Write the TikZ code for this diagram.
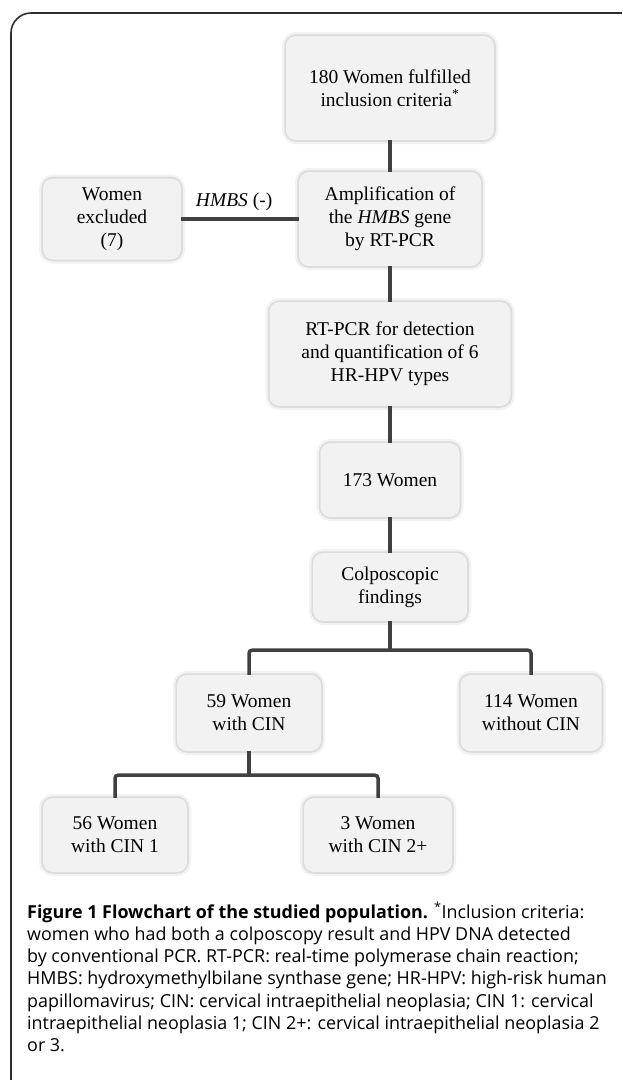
\documentclass[tikz,border=0pt]{standalone}
\usepackage{fontspec}
\setmainfont{Liberation Serif}
\newfontfamily\capfont{Open Sans}
\usepackage{xcolor}
\usetikzlibrary{positioning}

\definecolor{boxgray}{HTML}{F2F2F2}
\definecolor{linegray}{HTML}{404040}
\definecolor{framegray}{HTML}{2E2E2E}

\tikzset{
  box/.style={rectangle, rounded corners=10pt, fill=boxgray, align=center,
    inner sep=2pt, font=\fontsize{19.5}{23}\selectfont,
    preaction={draw=black, draw opacity=0.05, line width=8pt},
    preaction={draw=black, draw opacity=0.09, line width=3.5pt}},
  link/.style={draw=linegray, line width=3.5pt},
}

\begin{document}
\begin{tikzpicture}[x=1pt, y=1pt, on grid, node distance=130pt]
      \clip (0,0) rectangle (622,-1080);
      \draw[framegray, line width=1.6pt, rounded corners=20pt] (11,-13) rectangle (660,-1110);

      \node[box, minimum width=208pt, minimum height=104pt] (start) at (390,-88) {180 Women fulfilled\\inclusion criteria\textsuperscript{*}};
      \node[box, minimum width=182pt, minimum height=94pt]  (amp)   [below=131pt of start] {Amplification of\\the \textit{HMBS} gene\\by RT-PCR};
      \node[box, minimum width=138pt, minimum height=81pt]  (excl)  [left=278pt of amp] {Women\\excluded\\(7)};
      \node[box, minimum width=241pt, minimum height=104pt] (rtpcr) [below=135pt of amp] {RT-PCR for detection\\and quantification of 6\\HR-HPV types};
      \node[box, minimum width=139pt, minimum height=74pt]  (w173)  [below=126pt of rtpcr] {173 Women};
      \node[box, minimum width=154pt, minimum height=68pt]  (colpo) [below=107pt of w173] {Colposcopic\\findings};
      \node[box, minimum width=144pt, minimum height=76pt]  (cin)   [below left=126pt and 141pt of colpo] {59 Women\\with CIN};
      \node[box, minimum width=141pt, minimum height=76pt]  (nocin) [below right=126pt and 141pt of colpo] {114 Women\\without CIN};
      \node[box, minimum width=144pt, minimum height=74pt]  (cin1)  [below left=122pt and 134pt of cin] {56 Women\\with CIN 1};
      \node[box, minimum width=148pt, minimum height=74pt]  (cin2)  [below right=122pt and 129pt of cin] {3 Women\\with CIN 2+};

      \path[link]
        (start) edge (amp)
        (amp)   edge (rtpcr)
        (rtpcr) edge (w173)
        (w173)  edge (colpo);
      \draw[link] (excl) -- node[above=3pt, pos=0.45, font=\fontsize{19.5}{23}\selectfont] {\textit{HMBS} (-)} (amp);

      \draw[link] (colpo.south) -- ++(0,-29) coordinate (fork1);
      \draw[link, rounded corners=3pt] (cin.north) |- (fork1) -| (nocin.north);
      \draw[link] (cin.south) -- ++(0,-24) coordinate (fork2);
      \draw[link, rounded corners=3pt] (cin1.north) |- (fork2) -| (cin2.north);

      \node[anchor=north west, align=left, inner sep=0pt,
            font=\capfont\fontsize{17.9}{22.3}\selectfont] (caption) at (27,-902)
        {\textbf{Figure 1 Flowchart of the studied population.} \textsuperscript{*}Inclusion criteria:\\
         women who had both a colposcopy result and HPV DNA detected\\
         by conventional PCR. RT-PCR: real-time polymerase chain reaction;\\
         HMBS: hydroxymethylbilane synthase gene; HR-HPV: high-risk human\\
         papillomavirus; CIN: cervical intraepithelial neoplasia; CIN 1: cervical\\
         intraepithelial neoplasia 1; CIN 2+: cervical intraepithelial neoplasia 2\\
         or 3.};
\end{tikzpicture}
\end{document}
